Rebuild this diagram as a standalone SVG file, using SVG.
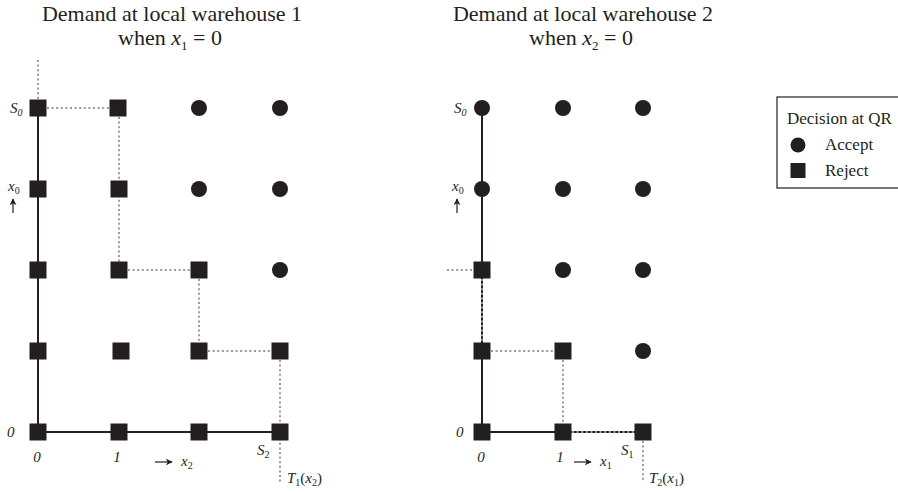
<svg xmlns="http://www.w3.org/2000/svg" width="898" height="492" viewBox="0 0 898 492">
<defs>
<style>
.t{font-family:"Liberation Serif","Times New Roman",serif;fill:#231f20}
.title{font-size:22px}
.lab{font-size:15px;font-style:italic}
.sub{font-size:10px;font-style:normal}
.subi{font-size:10px;font-style:italic}
.leg{font-size:17px}
.ax{stroke:#231f20;stroke-width:2;fill:none}
.dot{stroke:#9a9a9a;stroke-width:2;stroke-dasharray:2 2.6;fill:none}
.sq{fill:#231f20}
.ci{fill:#231f20}
.arr{stroke:#231f20;stroke-width:1.2;fill:none}
</style>
<symbol id="S" overflow="visible"><rect x="-8.5" y="-8.5" width="17" height="17" class="sq"/></symbol>
<symbol id="C" overflow="visible"><circle r="8" class="ci"/></symbol>
<marker id="ah" viewBox="0 0 10 10" refX="9" refY="5" markerWidth="7" markerHeight="7" orient="auto" markerUnits="userSpaceOnUse"><path d="M0,0 L10,5 L0,10 L3,5 z" fill="#231f20"/></marker>
</defs>
<rect width="898" height="492" fill="#fff"/>

<g id="titles">
<text class="t title" x="172" y="21" text-anchor="middle">Demand at local warehouse 1</text>
<text class="t title" x="170" y="45" text-anchor="middle">when <tspan font-style="italic">x</tspan><tspan font-size="13" dy="5">1</tspan><tspan dy="-5"> = 0</tspan></text>
<text class="t title" x="583" y="21" text-anchor="middle">Demand at local warehouse 2</text>
<text class="t title" x="581" y="45" text-anchor="middle">when <tspan font-style="italic">x</tspan><tspan font-size="13" dy="5">2</tspan><tspan dy="-5"> = 0</tspan></text>
</g>

<g id="connectors">
<path class="ax" d="M38,108 V432 H280"/>
<path class="dot" d="M38,60 V100"/>
<path class="dot" d="M47,108 H110"/>
<path class="dot" d="M119,117 V262"/>
<path class="dot" d="M128,270 H191"/>
<path class="dot" d="M199,279 V343"/>
<path class="dot" d="M208,351 H272"/>
<path class="dot" d="M280,360 V482"/>
<path class="ax" d="M482,108 V432 H643"/>
<path class="dot" d="M447,270 H474"/>
<path class="dot" d="M482,279 V343"/>
<path class="dot" d="M491,351 H555"/>
<path class="dot" d="M563,360 V424"/>
<path class="dot" d="M572,432 H635"/>
<path class="dot" d="M643,441 V482"/>
<path class="arr" d="M13,213 V199" marker-end="url(#ah)"/>
<path class="arr" d="M155,462 H172" marker-end="url(#ah)"/>
<path class="arr" d="M457,213 V199" marker-end="url(#ah)"/>
<path class="arr" d="M574,462 H591" marker-end="url(#ah)"/>
</g>

<g id="left-nodes">
<g id="L-0-4"><use href="#S" x="38" y="108"/></g>
<g id="L-1-4"><use href="#S" x="118" y="108"/></g>
<g id="L-2-4"><use href="#C" x="199" y="108"/></g>
<g id="L-3-4"><use href="#C" x="280" y="108"/></g>
<g id="L-0-3"><use href="#S" x="38" y="189"/></g>
<g id="L-1-3"><use href="#S" x="119" y="189"/></g>
<g id="L-2-3"><use href="#C" x="199" y="189"/></g>
<g id="L-3-3"><use href="#C" x="280" y="189"/></g>
<g id="L-0-2"><use href="#S" x="38" y="270"/></g>
<g id="L-1-2"><use href="#S" x="119" y="270"/></g>
<g id="L-2-2"><use href="#S" x="199" y="270"/></g>
<g id="L-3-2"><use href="#C" x="280" y="270"/></g>
<g id="L-0-1"><use href="#S" x="38" y="351"/></g>
<g id="L-1-1"><use href="#S" x="121" y="351"/></g>
<g id="L-2-1"><use href="#S" x="199" y="351"/></g>
<g id="L-3-1"><use href="#S" x="280" y="351"/></g>
<g id="L-0-0"><use href="#S" x="38" y="432"/></g>
<g id="L-1-0"><use href="#S" x="119" y="432"/></g>
<g id="L-2-0"><use href="#S" x="199" y="432"/></g>
<g id="L-3-0"><use href="#S" x="280" y="432"/></g>
</g>

<g id="right-nodes">
<g id="R-0-4"><use href="#C" x="482" y="108"/></g>
<g id="R-1-4"><use href="#C" x="563" y="108"/></g>
<g id="R-2-4"><use href="#C" x="643" y="108"/></g>
<g id="R-0-3"><use href="#C" x="482" y="189"/></g>
<g id="R-1-3"><use href="#C" x="563" y="189"/></g>
<g id="R-2-3"><use href="#C" x="643" y="189"/></g>
<g id="R-0-2"><use href="#S" x="482" y="270"/></g>
<g id="R-1-2"><use href="#C" x="563" y="270"/></g>
<g id="R-2-2"><use href="#C" x="643" y="270"/></g>
<g id="R-0-1"><use href="#S" x="482" y="351"/></g>
<g id="R-1-1"><use href="#S" x="563" y="351"/></g>
<g id="R-2-1"><use href="#C" x="643" y="351"/></g>
<g id="R-0-0"><use href="#S" x="482" y="432"/></g>
<g id="R-1-0"><use href="#S" x="563" y="432"/></g>
<g id="R-2-0"><use href="#S" x="643" y="432"/></g>
</g>

<g id="left-labels">
<text class="t lab" x="10" y="113">S<tspan class="subi" dy="3">0</tspan></text>
<text class="t lab" x="8" y="191">x<tspan class="sub" dy="3">0</tspan></text>
<text class="t lab" x="7" y="437">0</text>
<text class="t lab" x="37" y="462" text-anchor="middle">0</text>
<text class="t lab" x="117" y="462" text-anchor="middle">1</text>
<text class="t lab" x="181" y="466">x<tspan class="sub" dy="3">2</tspan></text>
<text class="t lab" x="257" y="455">S<tspan class="sub" dy="3">2</tspan></text>
<text class="t lab" x="287" y="483">T<tspan class="sub" dy="3">1</tspan><tspan font-style="normal" dy="-3">(</tspan>x<tspan class="sub" dy="3">2</tspan><tspan font-style="normal" dy="-3">)</tspan></text>
</g>

<g id="right-labels">
<text class="t lab" x="454" y="113">S<tspan class="subi" dy="3">0</tspan></text>
<text class="t lab" x="452" y="191">x<tspan class="sub" dy="3">0</tspan></text>
<text class="t lab" x="456" y="437">0</text>
<text class="t lab" x="481" y="462" text-anchor="middle">0</text>
<text class="t lab" x="560" y="462" text-anchor="middle">1</text>
<text class="t lab" x="600" y="466">x<tspan class="sub" dy="3">1</tspan></text>
<text class="t lab" x="621" y="455">S<tspan class="sub" dy="3">1</tspan></text>
<text class="t lab" x="649" y="483">T<tspan class="sub" dy="3">2</tspan><tspan font-style="normal" dy="-3">(</tspan>x<tspan class="sub" dy="3">1</tspan><tspan font-style="normal" dy="-3">)</tspan></text>
</g>

<g id="legend">
<rect x="777" y="97" width="125" height="91" fill="#fff" stroke="#231f20" stroke-width="1.2"/>
<text class="t leg" x="787" y="124">Decision at QR</text>
<circle cx="798" cy="145" r="7.5" class="ci"/>
<text class="t leg" x="825" y="150">Accept</text>
<rect x="790.5" y="163" width="15" height="15" class="sq"/>
<text class="t leg" x="825" y="176">Reject</text>
</g>
</svg>
